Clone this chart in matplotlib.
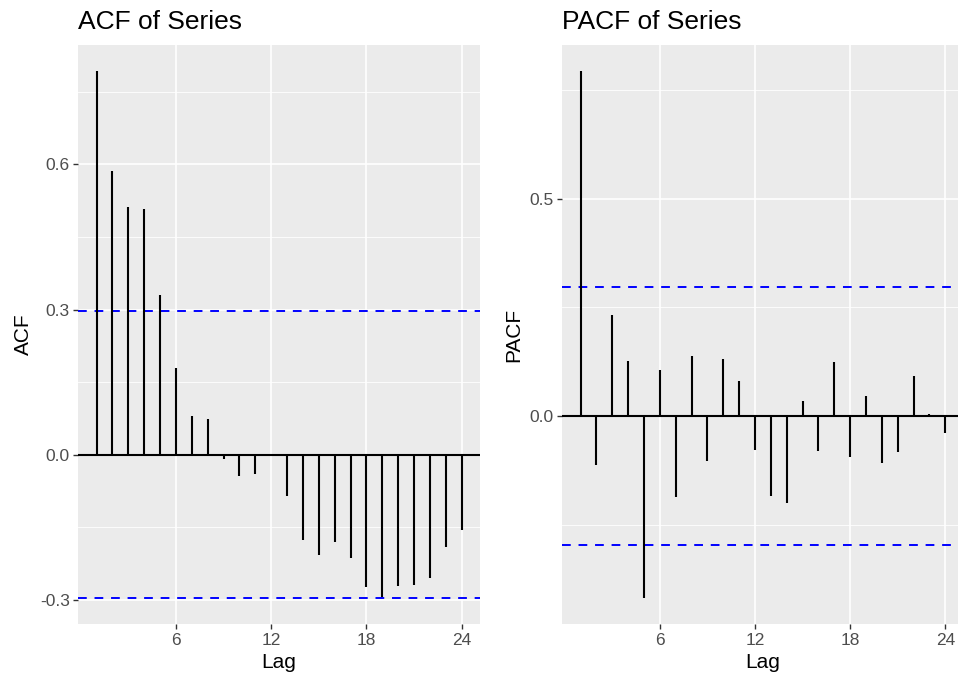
import matplotlib.pyplot as plt

# lags and values (forecast::ggAcf style)
lags = list(range(1, 25))
acf_vals = [0.793, 0.586, 0.512, 0.508, 0.330, 0.179, 0.079, 0.073,
            -0.008, -0.044, -0.039, -0.002, -0.085, -0.177, -0.207, -0.180,
            -0.214, -0.273, -0.295, -0.271, -0.270, -0.254, -0.190, -0.155]
pacf_vals = [0.793, -0.113, 0.232, 0.127, -0.418, 0.106, -0.186, 0.137,
             -0.104, 0.131, 0.081, -0.077, -0.183, -0.199, 0.035, -0.080,
             0.125, -0.093, 0.047, -0.108, -0.082, 0.092, 0.004, -0.038]
ci = 0.2962
x_breaks = [6, 12, 18, 24]

plt.rcParams["font.family"] = ["Liberation Sans", "DejaVu Sans"]

BG = "#EBEBEB"
W, H = 958, 684


def panel(fig, rect_px, vals, title, ylab, yticks, yminor):
    l, r, t, b = rect_px
    ax = fig.add_axes([l / W, 1 - b / H, (r - l) / W, (b - t) / H])
    ax.set_facecolor(BG)
    for s in ax.spines.values():
        s.set_visible(False)

    lo = min(min(vals), -ci)
    hi = max(max(vals), ci)
    pad = 0.05 * (hi - lo)
    ax.set_ylim(lo - pad, hi + pad)
    xpad = 0.05 * (lags[-1] - lags[0])
    ax.set_xlim(lags[0] - xpad, lags[-1] + xpad)

    # grid
    for y in yminor:
        ax.axhline(y, color="white", lw=0.6, zorder=0)
    for y in yticks:
        ax.axhline(y, color="white", lw=1.2, zorder=0)
    for x in x_breaks:
        ax.axvline(x, color="white", lw=1.2, zorder=0)

    ax.vlines(lags, 0, vals, color="black", lw=1.5, zorder=3)
    ax.axhline(0, color="black", lw=1.5, zorder=3)
    ax.axhline(ci, color="blue", lw=1.4, ls=(0, (4.5, 4)), zorder=2)
    ax.axhline(-ci, color="blue", lw=1.4, ls=(0, (4.5, 4)), zorder=2)

    ax.set_yticks(yticks)
    ax.set_yticklabels([f"{v:.1f}" for v in yticks])
    ax.set_xticks(x_breaks)
    ax.tick_params(colors="#333333", labelcolor="#4D4D4D", labelsize=12.5,
                   length=3.5, width=1.0, pad=2.5)
    ax.set_xlabel("Lag", fontsize=15, labelpad=4)
    ax.set_ylabel(ylab, fontsize=15, labelpad=5)
    ax.set_title(title, fontsize=19, loc="left", pad=11)
    return ax


fig = plt.figure(figsize=(W / 100, H / 100), dpi=100)
panel(fig, (78.3, 480, 44.7, 624.3), acf_vals, "ACF of Series", "ACF",
      [-0.3, 0.0, 0.3, 0.6], [-0.15, 0.15, 0.45, 0.75])
panel(fig, (562.3, 963.6, 44.7, 624.3), pacf_vals, "PACF of Series", "PACF",
      [0.0, 0.5], [-0.25, 0.25, 0.75])

fig.savefig("out.png", dpi=100, facecolor="white")
